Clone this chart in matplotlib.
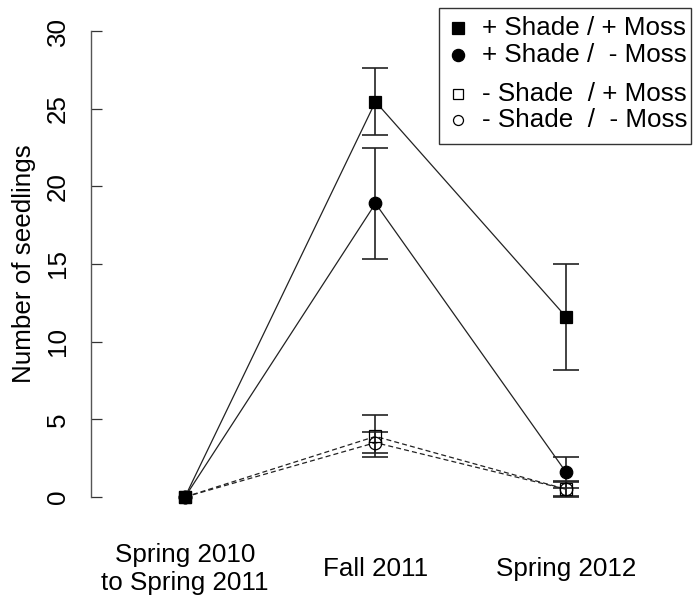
import matplotlib
matplotlib.use("Agg")
import matplotlib.pyplot as plt
from matplotlib.lines import Line2D
from matplotlib.patches import Rectangle

plt.rcParams['font.family'] = ['Liberation Sans', 'DejaVu Sans']

categories = ["Spring 2010\nto Spring 2011", "Fall 2011", "Spring 2012"]
series_labels = ["+ Shade / + Moss", "+ Shade /  - Moss", "- Shade  / + Moss", "- Shade  /  - Moss"]
shade_moss = [0.0, 25.45, 11.6]
shade_moss_err = [0.0, 2.15, 3.4]
shade_nomoss = [0.0, 18.9, 1.6]
shade_nomoss_err = [0.0, 3.6, 1.0]
noshade_moss = [0.0, 3.9, 0.5]
noshade_moss_err = [0.0, 1.35, 0.5]
noshade_nomoss = [0.0, 3.5, 0.5]
noshade_nomoss_err = [0.0, 0.7, 0.45]
yticks = [0, 5, 10, 15, 20, 25, 30]

FS = 18.7
W, H = 699, 605
fig = plt.figure(figsize=(W / 100, H / 100), dpi=100)
left, right, bottom, top = 91, 690, 515, 13
ax = fig.add_axes([left / W, 1 - bottom / H, (right - left) / W, (bottom - top) / H])

x = [1, 2, 3]
line_c = '#222222'
series = [
    (shade_moss, shade_moss_err, 's', 'black', '-'),
    (shade_nomoss, shade_nomoss_err, 'o', 'black', '-'),
    (noshade_nomoss, noshade_nomoss_err, 'o', 'none', (0, (4, 2.5))),
    (noshade_moss, noshade_moss_err, 's', 'none', (0, (4, 2.5))),
]
for vals, errs, m, fc, ls in series:
    ax.plot(x, vals, color=line_c, lw=0.9, ls=ls, zorder=2)
    xe = [xi for xi, e in zip(x, errs) if e > 0]
    ve = [v for v, e in zip(vals, errs) if e > 0]
    ee = [e for e in errs if e > 0]
    ax.errorbar(xe, ve, yerr=ee, fmt='none', ecolor=line_c, elinewidth=1.2,
                capsize=9.5, capthick=1.2, zorder=3)
    ax.plot(x, vals, ls='none', marker=m, ms=8.8 if m == 's' else 9.0,
            mfc=fc, mec='black', mew=0.9, zorder=4, clip_on=False)

ax.set_xlim(0.5066, 3.651)
ax.set_ylim(-1.16, 31.16)
for s in ['top', 'right', 'bottom']:
    ax.spines[s].set_visible(False)
ax.spines['left'].set_bounds(0, 30)
ax.spines['left'].set_color('#555555')
ax.spines['left'].set_linewidth(1.0)
ax.set_yticks(yticks)
ax.set_yticklabels([str(t) for t in yticks])
ax.tick_params(axis='y', direction='in', length=8, width=0.9, color='#333333',
               pad=15, labelsize=FS, labelrotation=90)
for lab in ax.get_yticklabels():
    lab.set_va('center')
ax.set_xticks(x)
ax.set_xticklabels(categories)
ax.tick_params(axis='x', length=0, pad=39, labelsize=FS)
for lab in ax.get_xticklabels():
    lab.set_va('center')
    lab.set_linespacing(1.2)

ax.set_ylabel("Number of seedlings", fontsize=FS)
ax.yaxis.set_label_coords((36 - left) / (right - left), 0.5)

# legend (manual, figure pixel coords)
def fx(px):
    return px / W

def fy(py):
    return 1 - py / H

fig.patches.append(Rectangle((fx(439), fy(144)), fx(691) - fx(439), fy(8) - fy(144),
                             transform=fig.transFigure, fill=False, ec='#333333', lw=1.0))
rows = [28, 55, 94, 120]
markers = [('s', 'black', 8.8), ('o', 'black', 8.8), ('s', 'none', 7.2), ('o', 'none', 7.2)]
for lab, yy, (m, fc, ms) in zip(series_labels, rows, markers):
    fig.add_artist(Line2D([fx(458)], [fy(yy)], marker=m, mfc=fc, mec='black', ms=ms,
                          mew=0.9, ls='none', transform=fig.transFigure))
    fig.text(fx(482), fy(yy), lab, fontsize=FS, va='center', ha='left')

fig.savefig("out.png", dpi=100)
